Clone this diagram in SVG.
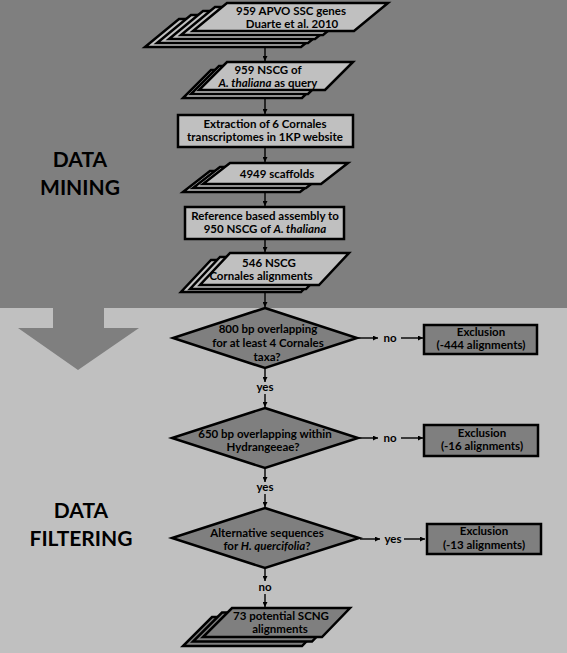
<svg xmlns="http://www.w3.org/2000/svg" width="567" height="653" viewBox="0 0 567 653">
<defs>
<style>
.t{font-family:Lato,"Liberation Sans",sans-serif;font-weight:bold;font-size:11.5px;fill:#000;text-anchor:middle}
.big{font-family:Lato,"Liberation Sans",sans-serif;font-weight:bold;font-size:21px;fill:#000;text-anchor:middle}
.lt{fill:#c0c0c0;stroke:#000;stroke-width:2.5;stroke-linejoin:miter}
.dk{fill:#7f7f7f;stroke:#000;stroke-width:2.5;stroke-linejoin:miter}
.c{stroke:#000;stroke-width:1.4;fill:none}
i{font-style:italic}
</style>
<marker id="ah" viewBox="0 0 10 10" refX="10" refY="5" markerWidth="5" markerHeight="5" markerUnits="userSpaceOnUse" orient="auto">
<path d="M0,0 L10,5 L0,10 z" fill="#000"/>
</marker>
</defs>
<rect x="0" y="0" width="567" height="308" fill="#7f7f7f"/>
<rect x="0" y="308" width="567" height="345" fill="#c0c0c0"/>
<polygon points="53,307 104,307 104,328 139,328 78,370 18,328 53,328" fill="#7f7f7f"/>
<text class="big" x="80" y="167">DATA</text>
<text class="big" x="80" y="195">MINING</text>
<text class="big" x="81" y="518">DATA</text>
<text class="big" x="81" y="546">FILTERING</text>

<g id="connectors">
<line class="c" x1="265" y1="48" x2="265" y2="61" marker-end="url(#ah)"/>
<line class="c" x1="265" y1="99" x2="265" y2="114" marker-end="url(#ah)"/>
<line class="c" x1="265" y1="148" x2="265" y2="162" marker-end="url(#ah)"/>
<line class="c" x1="265" y1="193" x2="265" y2="206" marker-end="url(#ah)"/>
<line class="c" x1="265" y1="240" x2="265" y2="252" marker-end="url(#ah)"/>
<line class="c" x1="265" y1="293" x2="265" y2="307" marker-end="url(#ah)"/>
<line class="c" x1="265" y1="369" x2="265" y2="382" marker-end="url(#ah)"/>
<text class="t" x="265" y="391">yes</text>
<line class="c" x1="265" y1="394" x2="265" y2="407" marker-end="url(#ah)"/>
<line class="c" x1="358" y1="338" x2="378" y2="338" marker-end="url(#ah)"/>
<text class="t" x="390" y="342">no</text>
<line class="c" x1="401" y1="338" x2="423" y2="338" marker-end="url(#ah)"/>
<line class="c" x1="265" y1="469" x2="265" y2="482" marker-end="url(#ah)"/>
<text class="t" x="265" y="491">yes</text>
<line class="c" x1="265" y1="494" x2="265" y2="507" marker-end="url(#ah)"/>
<line class="c" x1="359" y1="438" x2="378" y2="438" marker-end="url(#ah)"/>
<text class="t" x="390" y="442">no</text>
<line class="c" x1="401" y1="438" x2="423" y2="438" marker-end="url(#ah)"/>
<line class="c" x1="265" y1="569" x2="265" y2="581" marker-end="url(#ah)"/>
<text class="t" x="265" y="591">no</text>
<line class="c" x1="265" y1="594" x2="265" y2="607" marker-end="url(#ah)"/>
<line class="c" x1="360" y1="539" x2="380" y2="539" marker-end="url(#ah)"/>
<text class="t" x="393" y="543">yes</text>
<line class="c" x1="404" y1="539" x2="425" y2="539" marker-end="url(#ah)"/>
</g>

<g id="n1">
<polygon class="lt" points="179,19 335,19 301,47 145,47"/>
<polygon class="lt" points="191,15 342,15 308,43 157,43"/>
<polygon class="lt" points="203,11 349,11 315,39 169,39"/>
<polygon class="lt" points="215,7 357,7 323,35 181,35"/>
<polygon class="lt" points="227,3 388,3 354,31 193,31"/>
<text class="t" x="291" y="15">959 APVO SSC genes</text>
<text class="t" x="292" y="28">Duarte et al. 2010</text>
</g>

<g id="n2">
<polygon class="lt" points="211,70 330,70 302,98 183,98"/>
<polygon class="lt" points="219,66 336,66 308,94 191,94"/>
<polygon class="lt" points="227,62 353,62 325,90 199,90"/>
<text class="t" x="268" y="74">959 NSCG of</text>
<text class="t" x="268" y="87"><tspan font-style="italic">A. thaliana</tspan> as query</text>
</g>

<g id="n3">
<rect class="lt" x="178" y="115" width="175" height="32"/>
<text class="t" x="265" y="128">Extraction of 6 Cornales</text>
<text class="t" x="265" y="141">transcriptomes in 1KP website</text>
</g>

<g id="n4">
<polygon class="lt" points="210,171 327,171 300,192 183,192"/>
<polygon class="lt" points="220,167 333,167 306,188 193,188"/>
<polygon class="lt" points="230,163 348,163 321,184 203,184"/>
<text class="t" x="277" y="178">4949 scaffolds</text>
</g>

<g id="n5">
<rect class="lt" x="185" y="207" width="159" height="32"/>
<text class="t" x="265" y="220">Reference based assembly to</text>
<text class="t" x="265" y="233">950 NSCG of <tspan font-style="italic">A. thaliana</tspan></text>
</g>

<g id="n6">
<polygon class="lt" points="211,260 331,260 301,292 181,292"/>
<polygon class="lt" points="220,257 336,257 306,289 190,289"/>
<polygon class="lt" points="230,253 349,253 319,285 200,285"/>
<text class="t" x="269" y="267">546 NSCG</text>
<text class="t" x="261" y="280">Cornales alignments</text>
</g>

<g id="n7">
<polygon class="dk" points="265,308 357,338 265,368 173,338"/>
<text class="t" x="268" y="333">800 bp overlapping</text>
<text class="t" x="268" y="347">for at least 4 Cornales</text>
<text class="t" x="267" y="361">taxa?</text>
</g>

<g id="n8">
<rect class="dk" x="424" y="325" width="113" height="29"/>
<text class="t" x="481" y="336">Exclusion</text>
<text class="t" x="481" y="349">(-444 alignments)</text>
</g>

<g id="n9">
<polygon class="dk" points="265,408 358,438 265,468 172,438"/>
<text class="t" x="265" y="438">650 bp overlapping within</text>
<text class="t" x="263" y="451">Hydrangeeae?</text>
</g>

<g id="n10">
<rect class="dk" x="424" y="425" width="114" height="31"/>
<text class="t" x="482" y="437">Exclusion</text>
<text class="t" x="482" y="450">(-16 alignments)</text>
</g>

<g id="n11">
<polygon class="dk" points="265,508 359,538 265,568 172,538"/>
<text class="t" x="267" y="537">Alternative sequences</text>
<text class="t" x="267" y="550">for <tspan font-style="italic">H. quercifolia</tspan>?</text>
</g>

<g id="n12">
<rect class="dk" x="427" y="524" width="114" height="30"/>
<text class="t" x="484" y="535">Exclusion</text>
<text class="t" x="484" y="549">(-13 alignments)</text>
</g>

<g id="n13">
<polygon class="dk" points="212,617 330,617 302,646 183,646"/>
<polygon class="dk" points="222,612.5 340,612.5 312,641.5 193,641.5"/>
<polygon class="dk" points="232,608 350,608 322,637 203,637"/>
<text class="t" x="281" y="620">73 potential SCNG</text>
<text class="t" x="280" y="633">alignments</text>
</g>
</svg>
